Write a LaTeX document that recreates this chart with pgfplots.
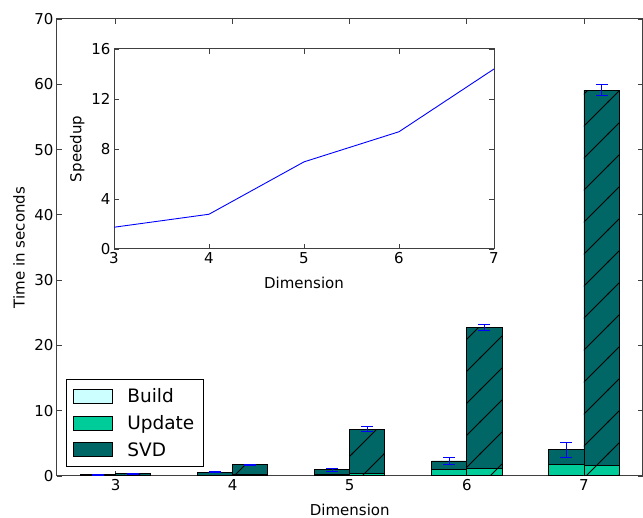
\documentclass[border=0pt]{standalone}
\usepackage{fontspec}
\setmainfont{DejaVu Sans}
\usepackage{pgfplots}
\pgfplotsset{compat=1.18}
\usetikzlibrary{patterns.meta}

\definecolor{build}{HTML}{CCFFFF}
\definecolor{update}{HTML}{00CC99}
\definecolor{svd}{HTML}{006666}
\definecolor{spine}{HTML}{404040}

% wide "/" hatching, like matplotlib's
\tikzdeclarepattern{
  name=hatch, type=uncolored,
  bottom left={(-1pt,-1pt)}, top right={(33pt,33pt)},
  tile size={(32pt,32pt)},
  code={\draw[line width=0.9pt] (-1pt,-1pt) -- (33pt,33pt);}
}

\pgfplotsset{
  look/.style={
    axis line style={spine, line width=1pt},
    tick style={spine, line width=0.9pt},
    major tick length=4.7pt,
    tick label style={font=\fontsize{15}{18}\selectfont},
    label style={font=\fontsize{15}{18}\selectfont},
    /pgf/number format/assume math mode=true,
  },
  base/.style={
    scale only axis, width=585.5pt, height=457pt,
    at={(57pt,42pt)}, anchor=south west,
    xmin=2.5, xmax=7.5, ymin=0, ymax=70,
  },
  bars/.style={ybar stacked, bar width=0.3},
  seg/.style={draw=black, line width=0.9pt, fill=#1,
    legend image code/.code={\draw[fill=#1, draw=black, line width=0.9pt] (0pt,-7pt) rectangle (39pt,7pt);}},
  hseg/.style={seg=#1, postaction={pattern=hatch, pattern color=black}},
}

\begin{document}
\begin{tikzpicture}
\path[use as bounding box] (0,0) rectangle (643pt,518pt);

% plain bars (left of each dimension)
\begin{axis}[base, look, bars,
    xtick={3,...,7}, ytick={0,10,...,70},
    xlabel={Dimension}, ylabel={Time in seconds},
    xlabel style={at={(axis description cs:0.5,-0.074)}, anchor=center},
    ylabel style={at={(axis description cs:-0.065,0.5)}, anchor=center},
    legend style={at={(0.0154,0.0197)}, anchor=south west,
      draw=black, line width=0.9pt, fill=white,
      font=\fontsize{18.5}{22}\selectfont,
      row sep=7.5pt, inner xsep=7pt, inner ysep=7pt,
      /tikz/every odd column/.append style={column sep=12pt}},
    legend cell align=left,
  ]
  \addplot[seg=build, bar shift=-0.15] coordinates {(3,0.03) (4,0.03) (5,0.03) (6,0.05) (7,0.05)};
  \addlegendentry{Build}
  \addplot[seg=update, bar shift=-0.15] coordinates {(3,0.05) (4,0.10) (5,0.22) (6,1.00) (7,1.65)};
  \addlegendentry{Update}
  \addplot[seg=svd, bar shift=-0.15] coordinates {(3,0.12) (4,0.45) (5,0.70) (6,1.25) (7,2.30)};
  \addlegendentry{SVD}
\end{axis}

% hatched bars (right of each dimension)
\begin{axis}[base, hide axis, bars]
  \addplot[hseg=build, bar shift=0.15] coordinates {(3,0.03) (4,0.03) (5,0.03) (6,0.05) (7,0.05)};
  \addplot[hseg=update, bar shift=0.15] coordinates {(3,0.05) (4,0.22) (5,0.35) (6,1.05) (7,1.55)};
  \addplot[hseg=svd, bar shift=0.15] coordinates {(3,0.27) (4,1.45) (5,6.80) (6,21.70) (7,57.50)};
\end{axis}

% error bars on the totals
\begin{axis}[base, hide axis]
  \addplot[blue, draw=none, mark=none,
    error bars/.cd, y dir=both, y explicit, error mark=|,
    error bar style={draw=blue, line width=0.9pt},
    error mark options={blue, draw=blue, mark size=6pt, line width=0.9pt}]
    coordinates {
      (2.85,0.20) +- (0,0.05)  (3.15,0.35) +- (0,0.05)
      (3.85,0.58) +- (0,0.08)  (4.15,1.70) +- (0,0.08)
      (4.85,0.95) +- (0,0.20)  (5.15,7.18) +- (0,0.35)
      (5.85,2.30) +- (0,0.60)  (6.15,22.80) +- (0,0.45)
      (6.85,4.00) +- (0,1.20)  (7.15,59.10) +- (0,0.85)
    };
\end{axis}

% inset: speedup
\begin{axis}[look, scale only axis, width=380pt, height=200pt,
    at={(114pt,269pt)}, anchor=south west,
    xmin=3, xmax=7, ymin=0, ymax=16,
    xtick={3,...,7}, ytick={0,4,...,16},
    axis background/.style={fill=white},
    xlabel={Dimension}, ylabel={Speedup},
    xlabel style={at={(axis description cs:0.5,-0.17)}, anchor=center},
    ylabel style={at={(axis description cs:-0.097,0.5)}, anchor=center},
  ]
  \addplot[blue, line width=0.9pt] coordinates {(3,1.74) (4,2.78) (5,6.97) (6,9.38) (7,14.4)};
\end{axis}
\end{tikzpicture}
\end{document}
